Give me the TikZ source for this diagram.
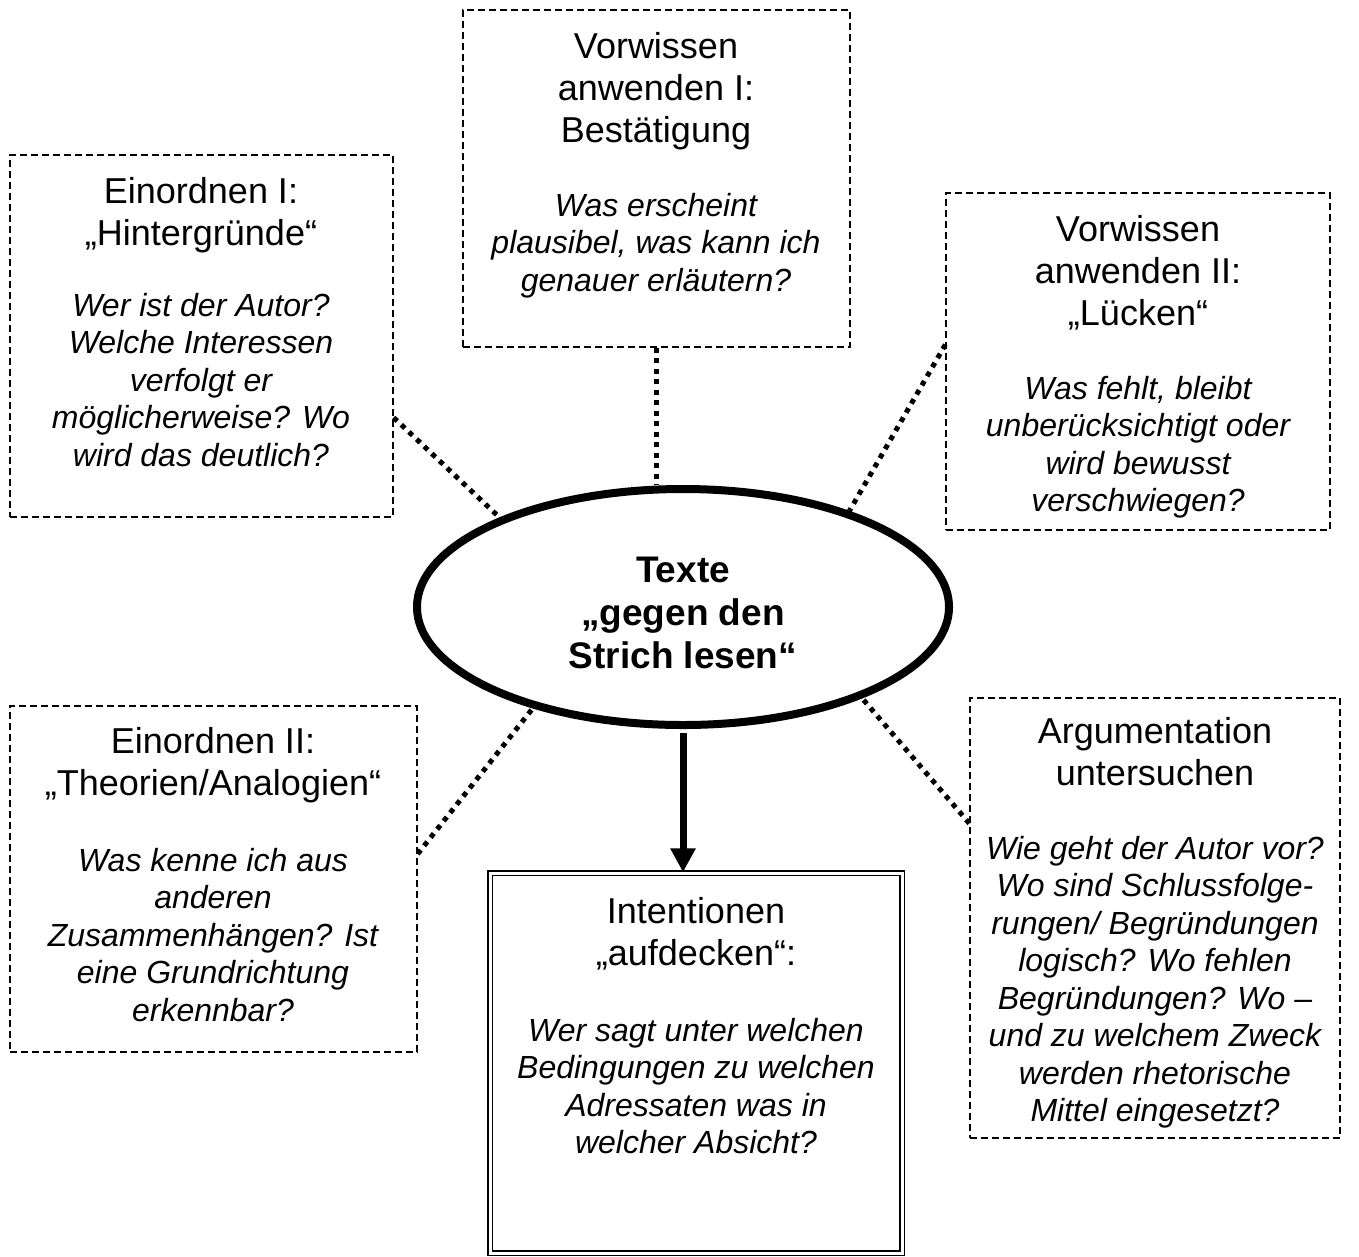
\documentclass[tikz,border=0pt]{standalone}
\usepackage{fontspec}
\setmainfont{Liberation Sans}
\usetikzlibrary{arrows.meta,shapes.geometric}
\begin{document}
\begin{tikzpicture}[x=1pt,y=-1pt,
 qbox/.style={draw, line width=1.3pt, dash pattern=on 7pt off 4pt, inner sep=0pt},
 ttl/.style={inner sep=0pt, align=center, font=\fontsize{36}{42}\selectfont, anchor=north},
 qst/.style={inner sep=0pt, align=center, font=\fontsize{32}{37.5}\selectfont\itshape, anchor=north},
 link/.style={line width=5pt, dash pattern=on 5pt off 5.5pt},
]
\useasboundingbox[fill=white] (0,0) rectangle (1359,1256);

% boxes
\node[qbox, minimum width=387pt, minimum height=337pt] (tb) at (656.5,178.5) {};
\node[qbox, minimum width=383pt, minimum height=362pt] (lt) at (201.5,336) {};
\node[qbox, minimum width=384pt, minimum height=337pt] (rt) at (1138,361.5) {};
\node[qbox, minimum width=407pt, minimum height=346pt] (lb) at (213.5,879) {};
\node[qbox, minimum width=370pt, minimum height=440pt] (rb) at (1155,918) {};
\node[draw, double, line width=1.5pt, double distance=3pt, inner sep=0pt,
      minimum width=412pt, minimum height=380pt] (bb) at (696,1063) {};

% texts
\node[ttl] (tbt) at (656,32) {Vorwissen\\anwenden I:\\Bestätigung};
\node[qst] (tbq) at (656,193) {Was erscheint\\plausibel, was kann ich\\genauer erläutern?};

\node[ttl] (ltt) at (201,177) {Einordnen I:\\„Hintergründe“};
\node[qst] (ltq) at (201,293) {Wer ist der Autor?\\Welche Interessen\\verfolgt er\\möglicherweise? Wo\\wird das deutlich?};

\node[ttl] (rtt) at (1138,215) {Vorwissen\\anwenden II:\\„Lücken“};
\node[qst] (rtq) at (1138,376) {Was fehlt, bleibt\\unberücksichtigt oder\\wird bewusst\\verschwiegen?};

\node[ttl] (lbt) at (213,727) {Einordnen II:\\„Theorien/Analogien“};
\node[qst] (lbq) at (213,848) {Was kenne ich aus\\anderen\\Zusammenhängen? Ist\\eine Grundrichtung\\erkennbar?};

\node[ttl] (rbt) at (1155,717) {Argumentation\\untersuchen};
\node[qst] (rbq) at (1155,836) {Wie geht der Autor vor?\\Wo sind Schlussfolge-\\rungen/ Begründungen\\logisch? Wo fehlen\\Begründungen? Wo –\\und zu welchem Zweck\\werden rhetorische\\Mittel eingesetzt?};

\node[ttl] (bbt) at (696,897) {Intentionen\\„aufdecken“:};
\node[qst] (bbq) at (696,1018) {Wer sagt unter welchen\\Bedingungen zu welchen\\Adressaten was in\\welcher Absicht?};

% central ellipse
\node[ellipse, draw, line width=8pt, minimum width=532pt, minimum height=236pt, inner sep=0pt] (ell) at (683,607) {};
\node[inner sep=0pt, align=center, font=\fontsize{37}{43}\selectfont\bfseries] (ellt) at (683,613)
      {Texte\\„gegen den\\Strich lesen“};

% connectors
\draw[link] (tb.south) -- (tb.south |- ell.north);
\draw[link] (lt.-23.7) -- (ell.154.8);
\draw[link] (rt.175.1) -- (ell.30.2);
\draw[link] (lb.7.6) -- (ell.214.4);
\draw[link] (rb.153.3) -- (ell.-27.6);
\draw[line width=7pt, -{Triangle[width=24pt,length=24pt]}, shorten <=4pt]
  (ell.south) -- (ell.south |- bb.north);
\end{tikzpicture}
\end{document}
